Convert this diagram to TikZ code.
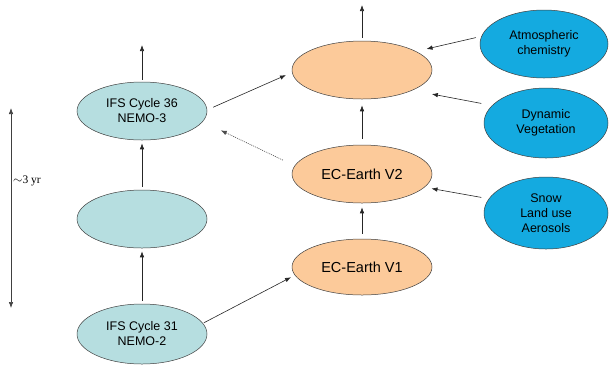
\documentclass[tikz,border=0pt]{standalone}
\usepackage{fontspec}
\setmainfont{Liberation Sans}
\newfontfamily\serifff{Liberation Serif}
\usetikzlibrary{shapes.geometric,arrows.meta}
\definecolor{tealc}{RGB}{182,222,224}
\definecolor{orc}{RGB}{252,202,154}
\definecolor{bluec}{RGB}{20,170,224}
\begin{document}
\begin{tikzpicture}[x=1pt,y=-1pt,
  ell/.style={ellipse,draw=black!75,line width=0.5pt,inner sep=0pt,align=center},
  tealell/.style={ell,fill=tealc,minimum width=130pt,minimum height=58pt,font=\fontsize{12.5}{15}\selectfont},
  orell/.style={ell,fill=orc,minimum width=140pt,minimum height=58pt,font=\fontsize{14.5}{17}\selectfont},
  blueell/.style={ell,fill=bluec,minimum width=124pt,minimum height=70pt,font=\fontsize{12.5}{15}\selectfont},
  arr/.style={-{Latex[length=6pt,width=4.5pt]},line width=0.6pt,draw=black!85},
  dotarr/.style={arr,draw=black!70,dash pattern=on 1pt off 1pt}]
\useasboundingbox (0,0) rectangle (609,365);
% left column
\node[tealell] (ifs36) at (142,111) {IFS Cycle 36\\NEMO-3};
\node[tealell] (mid) at (142,219) {};
\node[tealell,minimum height=60pt] (ifs31) at (142,334) {IFS Cycle 31\\NEMO-2};
% middle column
\node[orell] (top) at (362,70) {};
\node[orell] (v2) at (362,174) {EC-Earth V2};
\node[orell,minimum height=56pt] (v1) at (362,267) {EC-Earth V1};
% right column
\node[blueell,minimum width=128pt,minimum height=68pt] (atm) at (544,44) {Atmospheric\\chemistry};
\node[blueell] (dyn) at (546,123) {Dynamic\\Vegetation};
\node[blueell,minimum height=72pt] (snow) at (546,213) {Snow\\Land use\\Aerosols};
% free ends
\coordinate (ifsup) at (142,45);
\coordinate (topup) at (362,5);
\coordinate (yrtop) at (11,108);
\coordinate (yrbot) at (11,308);
% vertical arrows
\draw[arr,shorten <=2pt] (ifs36.north) -- (ifsup);
\draw[arr,shorten <=3pt,shorten >=3pt] (mid.north) -- (ifs36.south);
\draw[arr,shorten <=3pt,shorten >=3pt] (ifs31.north) -- (mid.south);
\draw[arr,shorten <=3pt] (top.north) -- (topup);
\draw[arr,shorten <=6pt,shorten >=6pt] (v2.north) -- (top.south);
\draw[arr,shorten <=5pt,shorten >=4pt] (v1.north) -- (v2.south);
% diagonal arrows
\draw[arr,shorten <=6.5pt,shorten >=6.6pt] (ifs36.1.2) -- (top.182);
\draw[dotarr,shorten <=13pt,shorten >=20pt] (v2.173) -- (ifs36.350.5);
\draw[arr,shorten <=1pt,shorten >=4.3pt] (ifs31.10.2) -- (v1.187.8);
\draw[arr,shorten <=5.6pt,shorten >=10.7pt] (atm.173.4) -- (top.19.3);
\draw[arr,shorten <=10.8pt,shorten >=19.8pt] (dyn.162.8) -- (top.338.4);
\draw[arr,shorten <=7.6pt,shorten >=7pt] (snow.166.8) -- (v2.348.7);
% time span
\draw[{Latex[length=6pt,width=4.5pt]}-{Latex[length=6pt,width=4.5pt]},line width=0.6pt,draw=black!75] (yrtop) -- (yrbot);
\node[anchor=west,inner sep=0pt,font=\serifff\fontsize{11.5}{13}\selectfont] (yr) at (13,181) {$\sim$3 yr};
\end{tikzpicture}
\end{document}
